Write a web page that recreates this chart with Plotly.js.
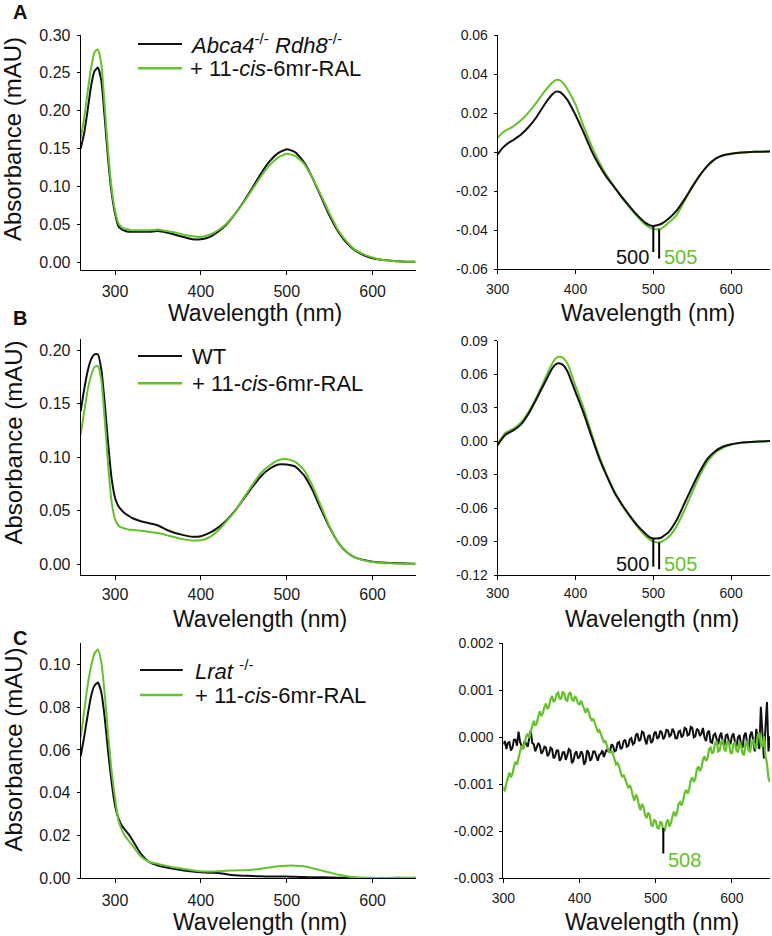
<!DOCTYPE html>
<html>
<head>
<meta charset="utf-8">
<script src="https://cdn.plot.ly/plotly-3.0.1.min.js"></script>
<style>html,body{margin:0;padding:0;background:#fff}#chart{width:772px;height:936px}</style>
</head>
<body>
<div id="chart"></div>
<script>
// ---------- DATA ----------
const wlLeft = [260,264,268,272,276,280,284,288,292,296,300,304,308,312,316,320,330,340,350,360,370,380,390,400,410,420,430,440,450,460,470,480,490,500,510,520,530,540,550,560,570,580,590,600,610,620,630,640,650];
const wlRight = [300,305,310,315,320,330,340,350,360,370,375,380,385,390,400,410,420,430,440,450,460,470,480,490,495,500,505,510,520,530,540,550,560,570,580,590,600,610,620,630,640,650];

// Panel A (Abca4-/- Rdh8-/-)
const absA_ctrl = [0.150,0.170,0.200,0.232,0.252,0.257,0.240,0.190,0.135,0.092,0.064,0.047,0.043,0.041,0.040,0.040,0.040,0.040,0.041,0.039,0.036,0.033,0.030,0.030,0.033,0.040,0.050,0.064,0.080,0.098,0.117,0.133,0.144,0.149,0.145,0.132,0.111,0.086,0.061,0.040,0.025,0.015,0.009,0.005,0.003,0.002,0.001,0.0005,0.0003];
const absA_treat = [0.163,0.190,0.224,0.256,0.277,0.281,0.262,0.205,0.145,0.098,0.068,0.051,0.046,0.044,0.043,0.042,0.042,0.042,0.043,0.041,0.039,0.036,0.034,0.033,0.036,0.042,0.051,0.064,0.079,0.096,0.113,0.128,0.138,0.143,0.140,0.130,0.111,0.088,0.064,0.042,0.027,0.016,0.010,0.006,0.003,0.002,0.001,0.0005,0.0003];
const diffA_ctrl = [-0.0012,0.0015,0.0035,0.005,0.0062,0.009,0.013,0.018,0.0243,0.0295,0.031,0.0308,0.029,0.0265,0.019,0.0105,0.0012,-0.0065,-0.0128,-0.018,-0.0232,-0.028,-0.0325,-0.0362,-0.0374,-0.0378,-0.0374,-0.0368,-0.034,-0.030,-0.0242,-0.0178,-0.0118,-0.0068,-0.0033,-0.0016,-0.0008,-0.0003,0.0,0.0002,0.0002,0.0003];
const diffA_treat = [0.0073,0.0095,0.011,0.012,0.0132,0.0163,0.0205,0.0255,0.031,0.0355,0.037,0.0368,0.035,0.032,0.0245,0.0137,0.0039,-0.0048,-0.0118,-0.0178,-0.0235,-0.0285,-0.0332,-0.0372,-0.0385,-0.0393,-0.0395,-0.0392,-0.036,-0.0322,-0.025,-0.018,-0.0118,-0.007,-0.0034,-0.0016,-0.0008,-0.0003,0.0,0.0002,0.0003,0.0005];

// Panel B (WT)
const absB_ctrl = [0.143,0.163,0.180,0.191,0.196,0.196,0.182,0.150,0.112,0.080,0.062,0.054,0.050,0.047,0.045,0.043,0.040,0.038,0.036,0.032,0.029,0.027,0.0255,0.026,0.029,0.034,0.041,0.050,0.061,0.072,0.082,0.089,0.093,0.093,0.091,0.083,0.069,0.051,0.034,0.020,0.011,0.006,0.0037,0.0022,0.0015,0.001,0.0007,0.0005,0.0003];
const absB_treat = [0.121,0.142,0.162,0.176,0.184,0.185,0.172,0.135,0.092,0.058,0.042,0.036,0.034,0.033,0.032,0.032,0.031,0.030,0.029,0.027,0.025,0.023,0.022,0.0222,0.025,0.031,0.040,0.050,0.062,0.074,0.085,0.092,0.097,0.098,0.0955,0.088,0.073,0.054,0.035,0.020,0.011,0.006,0.0034,0.0019,0.001,0.0006,0.0004,0.0002,0.0001];
const diffB_ctrl = [-0.0036,0.0015,0.0058,0.0078,0.0096,0.015,0.025,0.038,0.0517,0.0651,0.069,0.0696,0.0676,0.062,0.044,0.026,0.0054,-0.0145,-0.031,-0.046,-0.057,-0.067,-0.076,-0.083,-0.086,-0.0872,-0.0872,-0.0866,-0.0813,-0.0708,-0.0559,-0.041,-0.027,-0.0155,-0.0088,-0.0048,-0.0028,-0.0016,-0.001,-0.0006,-0.0003,0.0];
const diffB_treat = [-0.002,0.003,0.0075,0.0095,0.011,0.0168,0.0265,0.0395,0.0547,0.0696,0.0745,0.0756,0.0741,0.069,0.0495,0.0305,0.0084,-0.0125,-0.030,-0.045,-0.058,-0.068,-0.077,-0.085,-0.088,-0.0898,-0.0908,-0.0902,-0.0858,-0.0762,-0.062,-0.046,-0.0305,-0.018,-0.0102,-0.0058,-0.0032,-0.0018,-0.001,-0.0005,-0.0002,0.0003];

// Panel C (Lrat-/-)
const absC_ctrl = [0.057,0.066,0.076,0.085,0.090,0.0915,0.087,0.075,0.059,0.045,0.034,0.028,0.0245,0.0225,0.0205,0.018,0.0115,0.0075,0.006,0.005,0.0043,0.0037,0.0032,0.0028,0.0026,0.0025,0.0019,0.0014,0.0012,0.0011,0.0009,0.0008,0.0008,0.0008,0.0007,0.0006,0.0005,0.0005,0.0004,0.0003,0.0003,0.0002,0.0001,0.0001,0.0001,0.0001,0.0002,0.0001,0.0003];
const absC_treat = [0.0656,0.078,0.090,0.099,0.105,0.107,0.101,0.086,0.067,0.050,0.0375,0.027,0.0225,0.0195,0.0175,0.0155,0.0103,0.0076,0.0067,0.0058,0.005,0.0044,0.0038,0.0033,0.0032,0.0033,0.0035,0.0037,0.0038,0.004,0.0045,0.0051,0.0056,0.0059,0.0059,0.0056,0.0047,0.0037,0.0027,0.0017,0.001,0.0005,0.0003,0.0002,0.0002,0.0002,0.0003,0.0002,0.0004];
const wlDiffC = [300,302,304,306,308,310,312,314,316,318,320,322,324,326,328,330,332,334,336,338,340,342,344,346,348,350,352,354,356,358,360,362,364,366,368,370,372,374,376,378,380,382,384,386,388,390,392,394,396,398,400,402,404,406,408,410,412,414,416,418,420,422,424,426,428,430,432,434,436,438,440,442,444,446,448,450,452,454,456,458,460,462,464,466,468,470,472,474,476,478,480,482,484,486,488,490,492,494,496,498,500,502,504,506,508,510,512,514,516,518,520,522,524,526,528,530,532,534,536,538,540,542,544,546,548,550,552,554,556,558,560,562,564,566,568,570,572,574,576,578,580,582,584,586,588,590,592,594,596,598,600,602,604,606,608,610,612,614,616,618,620,622,624,626,628,630,632,634,636,638,640,642,644,646,648,650];
const diffC_ctrl = [
  -0.00015,-0.00008,-0.00025,-0.00012,-0.00010,-0.00028,-0.00022,-0.00005,-0.00005,-0.00018,
  0.00012,-0.00010,-0.00018,-0.00025,-0.00008,-0.00015,-0.00020,-0.00002,0.00015,-0.00012,
  -0.00015,-0.00030,-0.00022,-0.00012,-0.00018,-0.00035,-0.00030,-0.00020,-0.00022,-0.00040,
  -0.00035,-0.00022,-0.00025,-0.00045,-0.00040,-0.00028,-0.00028,-0.00050,-0.00045,-0.00032,
  -0.00032,-0.00048,-0.00038,-0.00025,-0.00028,-0.00055,-0.00050,-0.00035,-0.00030,-0.00045,
  -0.00042,-0.00030,-0.00035,-0.00058,-0.00052,-0.00028,-0.00032,-0.00050,-0.00045,-0.00030,
  -0.00030,-0.00042,-0.00050,-0.00038,-0.00035,-0.00028,-0.00042,-0.00032,-0.00025,-0.00030,
  -0.00030,-0.00015,-0.00018,-0.00030,-0.00028,-0.00012,-0.00010,-0.00025,-0.00022,-0.00008,
  -0.00005,-0.00020,-0.00018,-0.00005,-0.00002,-0.00015,-0.00012,0.00005,0.00008,-0.00008,
  -0.00005,0.00012,0.00010,-0.00005,-0.00015,0.00002,0.00005,-0.00012,-0.00008,0.00008,
  0.00012,-0.00003,0.00000,0.00014,0.00010,-0.00004,0.00002,0.00016,0.00015,0.00002,
  0.00005,0.00018,0.00012,-0.00002,-0.00002,0.00012,0.00014,0.00000,0.00004,0.00020,
  0.00018,0.00004,0.00006,0.00022,0.00020,0.00000,0.00002,0.00018,0.00015,0.00003,
  0.00008,0.00020,0.00000,-0.00008,0.00010,0.00014,-0.00010,-0.00012,0.00005,0.00008,
  -0.00005,-0.00015,0.00002,0.00010,-0.00012,-0.00018,0.00004,0.00006,-0.00008,-0.00015,
  0.00002,0.00008,-0.00010,-0.00020,0.00000,0.00005,-0.00015,-0.00022,0.00003,0.00010,
  -0.00012,-0.00025,0.00005,0.00012,-0.00008,-0.00030,0.00018,-0.00010,-0.00025,0.00065,
  0.00010,-0.00045,0.00020,0.00075,-0.00030,0.00002];
const diffC_treat = [
  -0.00105,-0.00115,-0.00098,-0.00088,-0.00075,-0.00085,-0.00078,-0.00062,-0.00052,-0.00058,
  -0.00040,-0.00030,-0.00018,-0.00025,-0.00012,0.00002,0.00008,-0.00002,0.00012,0.00022,
  0.00035,0.00025,0.00030,0.00045,0.00055,0.00045,0.00052,0.00065,0.00072,0.00060,
  0.00066,0.00080,0.00088,0.00075,0.00080,0.00092,0.00095,0.00082,0.00082,0.00096,
  0.00094,0.00080,0.00078,0.00092,0.00096,0.00082,0.00076,0.00088,0.00082,0.00072,
  0.00070,0.00078,0.00068,0.00058,0.00052,0.00062,0.00055,0.00042,0.00035,0.00040,
  0.00030,0.00018,0.00012,0.00015,0.00006,-0.00004,-0.00010,-0.00008,-0.00018,-0.00028,
  -0.00032,-0.00030,-0.00036,-0.00048,-0.00058,-0.00055,-0.00062,-0.00075,-0.00085,-0.00080,
  -0.00088,-0.00100,-0.00108,-0.00102,-0.00110,-0.00125,-0.00135,-0.00122,-0.00128,-0.00145,
  -0.00155,-0.00142,-0.00148,-0.00165,-0.00172,-0.00160,-0.00165,-0.00185,-0.00190,-0.00175,
  -0.00178,-0.00192,-0.00195,-0.00180,-0.00182,-0.00200,-0.00198,-0.00182,-0.00175,-0.00190,
  -0.00182,-0.00168,-0.00158,-0.00168,-0.00160,-0.00142,-0.00138,-0.00145,-0.00135,-0.00118,
  -0.00112,-0.00120,-0.00110,-0.00092,-0.00085,-0.00095,-0.00088,-0.00068,-0.00062,-0.00072,
  -0.00065,-0.00048,-0.00040,-0.00050,-0.00045,-0.00025,-0.00022,-0.00035,-0.00030,-0.00012,
  -0.00008,-0.00030,-0.00028,-0.00010,-0.00005,-0.00025,-0.00030,-0.00008,-0.00012,-0.00032,
  -0.00035,-0.00015,-0.00010,-0.00028,-0.00032,-0.00010,-0.00018,-0.00035,-0.00038,-0.00012,
  -0.00008,-0.00028,-0.00030,-0.00010,-0.00005,-0.00020,-0.00025,0.00005,0.00010,-0.00015,
  -0.00020,0.00002,-0.00040,-0.00055,-0.00088,-0.00095];

// Minimum markers (position on wavelength axis, label text, top/bottom of tick)
const markA_wl = [500, 507.5];
const markA_lbl = ['500', '505'];
const markA_top = [-0.0378, -0.0395];
const markA_bot = [-0.0512, -0.0545];
const markB_wl = [500, 507.5];
const markB_lbl = ['500', '505'];
const markB_top = [-0.0872, -0.0908];
const markB_bot = [-0.1125, -0.1148];
const markC_wl = [510];
const markC_lbl = ['508'];
const markC_top = [-0.00193];
const markC_bot = [-0.00247];

// Tick labels
const xTicksLbl = ['300','400','500','600'];
const yTicksA = ['0.00','0.05','0.10','0.15','0.20','0.25','0.30'];
const yTicksA2 = ['-0.06','-0.04','-0.02','0.00','0.02','0.04','0.06'];
const yTicksB = ['0.00','0.05','0.10','0.15','0.20'];
const yTicksB2 = ['-0.12','-0.09','-0.06','-0.03','0.00','0.03','0.06','0.09'];
const yTicksC = ['0.00','0.02','0.04','0.06','0.08','0.10'];
const yTicksC2 = ['-0.003','-0.002','-0.001','0.000','0.001','0.002'];

const legendA = '<i>Abca4</i><sup>-/-</sup> <i>Rdh8</i><sup>-/-</sup>';
const legendB = 'WT';
const legendC = '<i>Lrat</i> <sup>-/-</sup>';
const legendTreat = '+ 11-<i>cis</i>-6mr-RAL';

// ---------- STYLE / LAYOUT ----------
const W = 772, H = 936;
const px = x => x / W;
const py = y => 1 - y / H;
const BLACK = '#111111';
const GREEN = '#63c328';
const FONT = 'Liberation Sans, Arial, sans-serif';

function line(x, y, color, xa, ya, width, shape) {
  return {x, y, type: 'scatter', mode: 'lines', xaxis: xa, yaxis: ya,
    line: {color, width: width || 2, shape: shape || 'spline', smoothing: 0.5},
    showlegend: false, hoverinfo: 'skip'};
}

const data = [
  line(wlLeft, absA_ctrl, BLACK, 'x', 'y'),
  line(wlLeft, absA_treat, GREEN, 'x', 'y'),
  line(wlRight, diffA_treat, GREEN, 'x2', 'y2'),
  line(wlRight, diffA_ctrl, BLACK, 'x2', 'y2'),
  line(wlLeft, absB_ctrl, BLACK, 'x3', 'y3'),
  line(wlLeft, absB_treat, GREEN, 'x3', 'y3'),
  line(wlRight, diffB_treat, GREEN, 'x4', 'y4'),
  line(wlRight, diffB_ctrl, BLACK, 'x4', 'y4'),
  line(wlLeft, absC_ctrl, BLACK, 'x5', 'y5'),
  line(wlLeft, absC_treat, GREEN, 'x5', 'y5'),
  line(wlDiffC, diffC_ctrl, BLACK, 'x6', 'y6', 2, 'linear'),
  line(wlDiffC, diffC_treat, GREEN, 'x6', 'y6', 2.2, 'linear')
];

function xax(domain, range, anchor, fs, standoff) {
  return {domain, range, anchor, tickmode: 'array', tickvals: xTicksLbl.map(Number), ticktext: xTicksLbl,
    ticks: 'outside', ticklen: 4, tickwidth: 1, tickcolor: '#000', showline: true, linecolor: '#000', linewidth: 1,
    showgrid: false, zeroline: false, tickfont: {family: FONT, size: fs, color: '#1a1a1a'},
    ticklabelstandoff: standoff === undefined ? 3 : standoff, fixedrange: true};
}
function yax(domain, range, anchor, lbls, fs) {
  return {domain, range, anchor, tickmode: 'array', tickvals: lbls.map(Number), ticktext: lbls,
    ticks: 'outside', ticklen: 3, tickwidth: 1, tickcolor: '#000', showline: true, linecolor: '#000', linewidth: 1,
    showgrid: false, zeroline: false, tickfont: {family: FONT, size: fs, color: '#1a1a1a'}, ticklabelstandoff: 3, fixedrange: true};
}

const leftX = [px(80.7), px(415.5)];
const rightX = [px(497.7), px(770)];
const rightXC = [px(503.3), px(770)];

const layout = {
  width: W, height: H, margin: {l: 0, r: 0, t: 0, b: 0}, paper_bgcolor: '#fff', plot_bgcolor: 'rgba(0,0,0,0)',
  showlegend: false, font: {family: FONT, color: '#111'},
  xaxis: xax(leftX, [260, 650], 'y', 16),
  yaxis: yax([py(269.6), py(35)], [-0.01, 0.30], 'x', yTicksA, 16),
  xaxis2: xax(rightX, [300, 650], 'y2', 14),
  yaxis2: yax([py(269.3), py(35)], [-0.06, 0.06], 'x2', yTicksA2, 14),
  xaxis3: xax(leftX, [260, 650], 'y3', 16, 1),
  yaxis3: yax([py(574.7), py(339.3)], [-0.01, 0.21], 'x3', yTicksB, 16),
  xaxis4: xax(rightX, [300, 650], 'y4', 14, 1),
  yaxis4: yax([py(575), py(340.7)], [-0.12, 0.09], 'x4', yTicksB2, 14),
  xaxis5: xax(leftX, [260, 650], 'y5', 16),
  yaxis5: yax([py(878.3), py(643)], [0, 0.11], 'x5', yTicksC, 16),
  xaxis6: xax(rightXC, [300, 650], 'y6', 14),
  yaxis6: yax([py(878.3), py(643.3)], [-0.003, 0.002], 'x6', yTicksC2, 14),
  shapes: [], annotations: []
};

function paperText(text, x, y, size, opts) {
  return Object.assign({text, x: px(x), y: py(y), xref: 'paper', yref: 'paper', showarrow: false,
    xanchor: 'center', yanchor: 'middle', font: {family: FONT, size, color: '#111'}}, opts || {});
}

// Panel letters
[['A', 12.5], ['B', 317.5], ['C', 637.5]].forEach(([t, y]) => {
  layout.annotations.push(paperText('<b>' + t + '</b>', 19.5, y, 20));
});

// Axis titles
[[139.5], [443], [750]].forEach(([y]) => {
  layout.annotations.push(paperText('Absorbance (mAU)', 12.5, y, 24, {textangle: -90}));
});
[[254.5, 313, 647.7, 313], [259.5, 618.5, 651.8, 618.5], [259.5, 922, 651.8, 922]].forEach(([xl, yl, xr, yr]) => {
  layout.annotations.push(paperText('Wavelength (nm)', xl, yl, 23));
  layout.annotations.push(paperText('Wavelength (nm)', xr, yr, 23));
});

// Legends (line sample + label)
function legend(y1, y2, x0, x1, tx, lbl) {
  layout.shapes.push({type: 'line', xref: 'paper', yref: 'paper', x0: px(x0), x1: px(x1), y0: py(y1), y1: py(y1), line: {color: BLACK, width: 2}});
  layout.shapes.push({type: 'line', xref: 'paper', yref: 'paper', x0: px(x0), x1: px(x1), y0: py(y2), y1: py(y2), line: {color: GREEN, width: 2.5}});
  layout.annotations.push(paperText(lbl, tx, y1, 22, {xanchor: 'left'}));
  layout.annotations.push(paperText(legendTreat, tx, y2, 22, {xanchor: 'left'}));
}
legend(44, 68.3, 138, 182, 188, legendA);
legend(356, 383.3, 138, 182, 190, legendB);
legend(670, 695, 140, 182.7, 193, legendC);

// Minimum markers
function marks(wl, top, bot, lbl, xa, ya, lblPos) {
  wl.forEach((w, i) => {
    layout.shapes.push({type: 'line', xref: xa, yref: ya, x0: w, x1: w, y0: top[i], y1: bot[i], line: {color: '#000', width: 2}});
  });
  lblPos.forEach(([x, y, color, anchor], i) => {
    layout.annotations.push({text: lbl[i], x, y, xref: xa, yref: ya, showarrow: false, xanchor: anchor, yanchor: 'middle',
      font: {family: FONT, size: 20, color}});
  });
}
marks(markA_wl, markA_top, markA_bot, markA_lbl, 'x2', 'y2', [[497, -0.0535, '#111', 'right'], [511, -0.0535, GREEN, 'left']]);
marks(markB_wl, markB_top, markB_bot, markB_lbl, 'x4', 'y4', [[497, -0.1105, '#111', 'right'], [511, -0.1105, GREEN, 'left']]);
marks(markC_wl, markC_top, markC_bot, markC_lbl, 'x6', 'y6', [[513, -0.00262, GREEN, 'left']]);

Plotly.newPlot('chart', data, layout, {displayModeBar: false, staticPlot: true});
</script>
</body>
</html>
